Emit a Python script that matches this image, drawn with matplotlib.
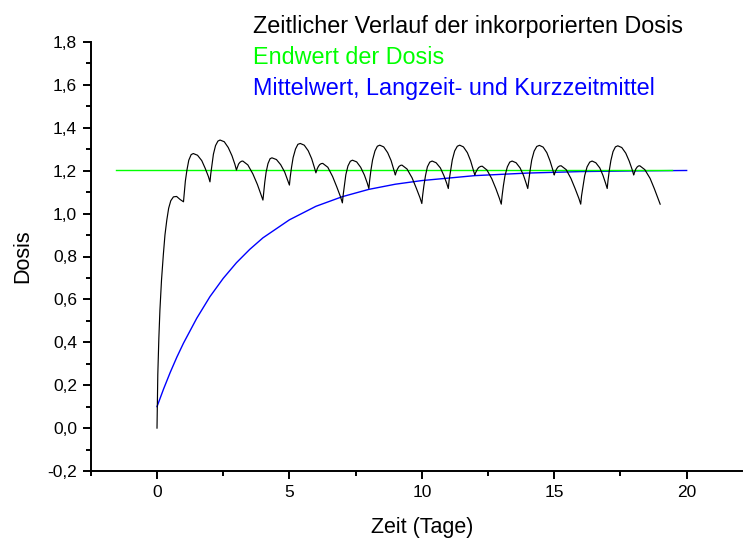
import numpy as np
import matplotlib
matplotlib.use('Agg')
import matplotlib.pyplot as plt
from matplotlib import ticker

plt.rcParams['font.family'] = ['Liberation Sans', 'DejaVu Sans']

# Zeitlicher Verlauf der inkorporierten Dosis (one row per day)
dose_t = [0.00, 0.03, 0.07, 0.11, 0.17, 0.24, 0.30, 0.37, 0.44, 0.52, 0.62, 0.74, 0.87,
          1.00, 1.03, 1.07, 1.13, 1.20, 1.29, 1.37, 1.53, 1.69, 1.82, 1.94,
          2.00, 2.03, 2.08, 2.13, 2.21, 2.30, 2.38, 2.54, 2.69, 2.83, 2.94,
          3.00, 3.02, 3.05, 3.08, 3.13, 3.19, 3.24, 3.43, 3.62, 3.79, 3.92,
          4.00, 4.03, 4.07, 4.12, 4.19, 4.27, 4.34, 4.51, 4.67, 4.82, 4.93,
          5.00, 5.03, 5.08, 5.14, 5.23, 5.32, 5.41, 5.56, 5.71, 5.84, 5.94,
          6.00, 6.02, 6.05, 6.09, 6.14, 6.20, 6.26, 6.45, 6.63, 6.79, 6.93,
          7.00, 7.03, 7.08, 7.13, 7.21, 7.30, 7.38, 7.54, 7.69, 7.83, 7.94,
          8.00, 8.03, 8.08, 8.14, 8.23, 8.32, 8.41, 8.56, 8.71, 8.84, 8.94,
          9.00, 9.02, 9.05, 9.09, 9.14, 9.20, 9.25, 9.44, 9.63, 9.79, 9.93,
          10.00, 10.03, 10.08, 10.14, 10.21, 10.30, 10.39, 10.54, 10.70, 10.83, 10.94,
          11.00, 11.03, 11.09, 11.15, 11.24, 11.34, 11.43, 11.57, 11.72, 11.84, 11.94,
          12.00, 12.02, 12.06, 12.10, 12.15, 12.22, 12.28, 12.46, 12.64, 12.80, 12.93,
          13.00, 13.03, 13.08, 13.14, 13.23, 13.32, 13.41, 13.56, 13.71, 13.84, 13.94,
          14.00, 14.04, 14.09, 14.15, 14.24, 14.34, 14.44, 14.58, 14.72, 14.84, 14.94,
          15.00, 15.02, 15.05, 15.09, 15.14, 15.20, 15.26, 15.45, 15.63, 15.79, 15.93,
          16.00, 16.03, 16.09, 16.15, 16.24, 16.34, 16.43, 16.57, 16.72, 16.84, 16.94,
          17.00, 17.03, 17.08, 17.14, 17.22, 17.31, 17.40, 17.55, 17.70, 17.83, 17.94,
          18.00, 18.02, 18.05, 18.08, 18.13, 18.18, 18.23, 18.42, 18.62, 18.78, 18.92,
          19.00]
dose_v = [0.000, 0.250, 0.420, 0.550, 0.690, 0.810, 0.900, 0.970, 1.025, 1.060, 1.078, 1.080, 1.066,
          1.055, 1.097, 1.151, 1.203, 1.249, 1.275, 1.280, 1.272, 1.247, 1.211, 1.173,
          1.148, 1.185, 1.231, 1.277, 1.317, 1.338, 1.343, 1.335, 1.308, 1.270, 1.230,
          1.203, 1.211, 1.221, 1.231, 1.239, 1.244, 1.245, 1.227, 1.185, 1.136, 1.090,
          1.063, 1.100, 1.147, 1.193, 1.233, 1.256, 1.260, 1.252, 1.228, 1.194, 1.157,
          1.133, 1.170, 1.216, 1.261, 1.301, 1.323, 1.327, 1.319, 1.293, 1.256, 1.216,
          1.190, 1.198, 1.209, 1.219, 1.228, 1.233, 1.234, 1.216, 1.173, 1.124, 1.078,
          1.050, 1.087, 1.135, 1.181, 1.222, 1.244, 1.249, 1.241, 1.216, 1.180, 1.142,
          1.117, 1.155, 1.204, 1.250, 1.292, 1.314, 1.319, 1.311, 1.284, 1.247, 1.206,
          1.180, 1.189, 1.200, 1.210, 1.220, 1.225, 1.226, 1.208, 1.167, 1.119, 1.074,
          1.047, 1.084, 1.132, 1.178, 1.218, 1.240, 1.245, 1.237, 1.213, 1.178, 1.141,
          1.117, 1.155, 1.204, 1.250, 1.292, 1.314, 1.319, 1.311, 1.284, 1.247, 1.206,
          1.180, 1.188, 1.198, 1.207, 1.215, 1.220, 1.221, 1.203, 1.163, 1.115, 1.071,
          1.044, 1.082, 1.130, 1.177, 1.218, 1.240, 1.245, 1.237, 1.213, 1.178, 1.141,
          1.117, 1.155, 1.203, 1.250, 1.291, 1.313, 1.318, 1.310, 1.284, 1.246, 1.206,
          1.180, 1.188, 1.198, 1.208, 1.217, 1.222, 1.223, 1.205, 1.164, 1.116, 1.071,
          1.044, 1.082, 1.130, 1.177, 1.218, 1.240, 1.245, 1.237, 1.213, 1.178, 1.141,
          1.117, 1.154, 1.202, 1.248, 1.289, 1.311, 1.316, 1.308, 1.282, 1.245, 1.206,
          1.180, 1.188, 1.198, 1.208, 1.217, 1.222, 1.223, 1.205, 1.164, 1.116, 1.071,
          1.044]

# Endwert der Dosis
end_t = [-1.55, 19.45]
end_v = [1.205, 1.205]

# Mittelwert, Langzeit- und Kurzzeitmittel
mean_t = [0, 0.25, 0.5, 0.75, 1, 1.5, 2, 2.5, 3, 3.5, 4, 5, 6, 7, 8, 9, 10,
          12, 14, 16, 18, 20]
mean_v = [0.100, 0.183, 0.260, 0.331, 0.396, 0.512, 0.613, 0.698, 0.771,
          0.833, 0.887, 0.971, 1.034, 1.079, 1.113, 1.137, 1.154, 1.177,
          1.189, 1.196, 1.199, 1.201]

labels = ['Zeitlicher Verlauf der inkorporierten Dosis',
          'Endwert der Dosis',
          'Mittelwert, Langzeit- und Kurzzeitmittel']
colors = ['black', '#00ff00', '#0000ff']

W, H = 743, 539
x0, x1, ytop, ybot = 90.8, 742, 42, 471
fig = plt.figure(figsize=(W/100, H/100), dpi=100)
ax = fig.add_axes([x0/W, (H-ybot)/H, (x1-x0)/W, (ybot-ytop)/H])

ax.plot(mean_t, mean_v, color=colors[2], lw=1.0)
ax.plot(end_t, end_v, color=colors[1], lw=1.0)
ax.plot(dose_t, dose_v, color=colors[0], lw=0.85)

ax.set_xlim(-2.5, 22.09)
ax.set_ylim(-0.2, 1.8)
ax.xaxis.set_major_locator(ticker.MultipleLocator(5))
ax.xaxis.set_minor_locator(ticker.MultipleLocator(2.5))
ax.yaxis.set_major_locator(ticker.MultipleLocator(0.2))
ax.yaxis.set_minor_locator(ticker.MultipleLocator(0.1))
ax.yaxis.set_major_formatter(ticker.FuncFormatter(
    lambda v, p: ('%.1f' % (0.0 if abs(v) < 1e-9 else v)).replace('.', ',')))
ax.xaxis.set_major_formatter(ticker.FuncFormatter(lambda v, p: '%d' % round(v)))

for s in ['top', 'right']:
    ax.spines[s].set_visible(False)
for s in ['left', 'bottom']:
    ax.spines[s].set_linewidth(1.4)
ax.tick_params(which='major', direction='out', length=6, width=1.4,
               labelsize=12.5, pad=4)
ax.tick_params(which='minor', direction='out', length=3.5, width=1.4)

ax.set_xlabel('Zeit (Tage)', fontsize=15.5, va='center')
ax.xaxis.set_label_coords((422 - x0)/(x1 - x0), -56/(ybot - ytop))
ax.set_ylabel('Dosis', fontsize=15.5, labelpad=10)

for i, (lab, c) in enumerate(zip(labels, colors)):
    fig.text(253/W, 1 - (27 + 30.5*i)/H, lab, color=c, fontsize=16.8,
             ha='left', va='center')

fig.savefig('out.png', dpi=100)
